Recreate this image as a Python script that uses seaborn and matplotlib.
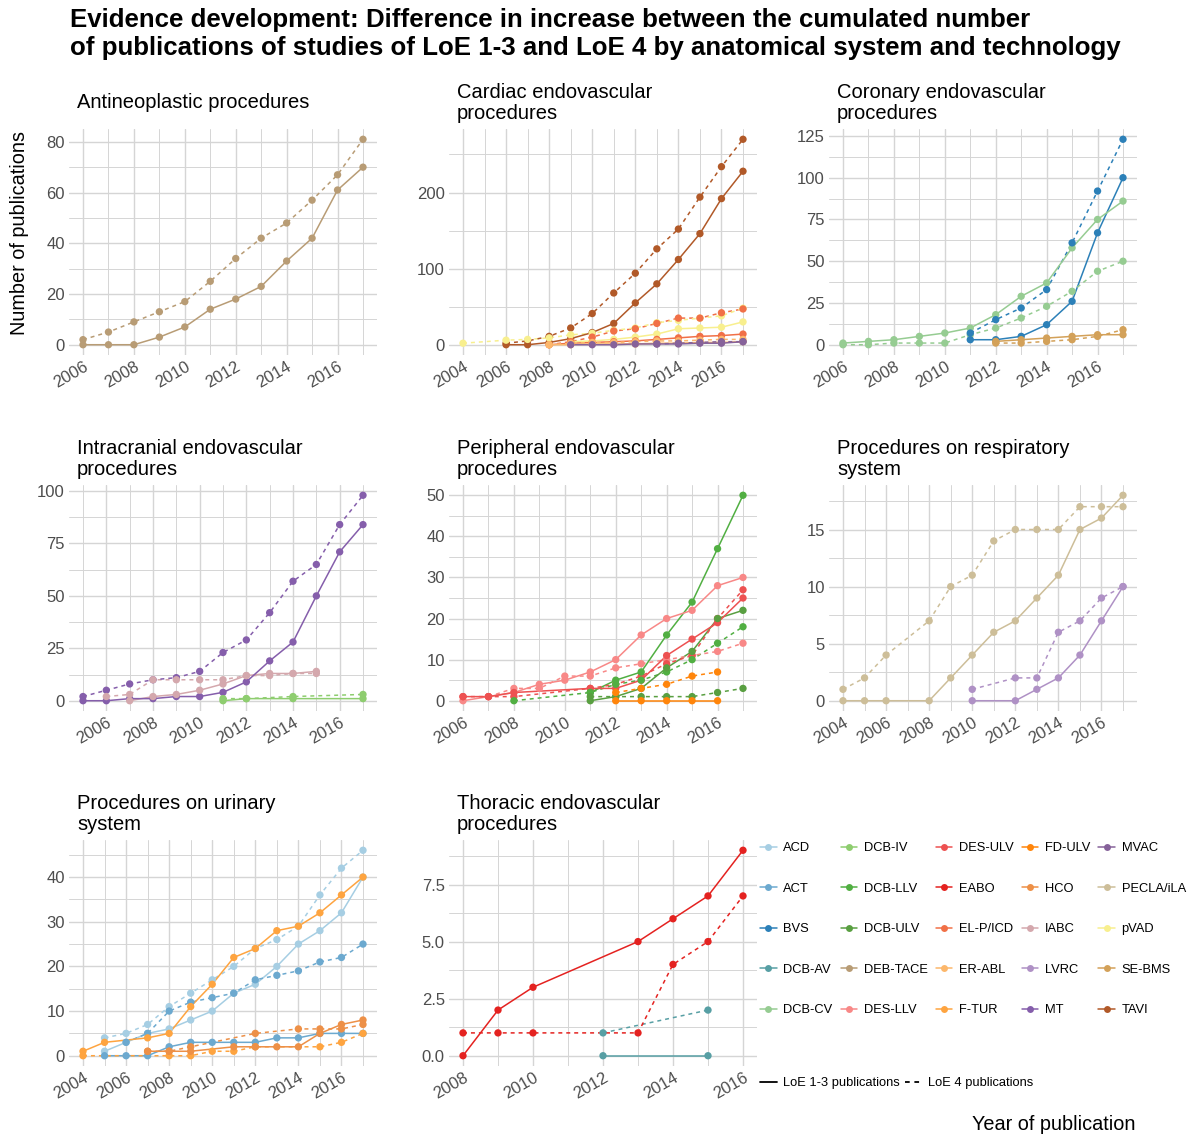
import numpy as np
import pandas as pd
import matplotlib
matplotlib.use("Agg")
import matplotlib.pyplot as plt
from matplotlib.lines import Line2D
from matplotlib.colors import LinearSegmentedColormap, to_hex
from matplotlib.ticker import MultipleLocator, FormatStrFormatter
import seaborn as sns

# ------------------------------------------------------------------ data
# Antineoplastic procedures
deb_tace_years = [2006, 2007, 2008, 2009, 2010, 2011, 2012, 2013, 2014, 2015, 2016, 2017]
deb_tace_loe13 = [0, 0, 0, 3, 7, 14, 18, 23, 33, 42, 61, 70]
deb_tace_loe4 = [2, 5, 9, 13, 17, 25, 34, 42, 48, 57, 67, 81]

# Cardiac endovascular procedures
tavi_years = [2006, 2007, 2008, 2009, 2010, 2011, 2012, 2013, 2014, 2015, 2016, 2017]
tavi_loe13 = [0, 0, 3, 8, 16, 28, 55, 80, 112, 146, 192, 228]
tavi_loe4 = [2, 5, 11, 22, 41, 68, 94, 126, 152, 194, 234, 270]
pvad_years13 = [2009, 2010, 2011, 2012, 2013, 2014, 2015, 2016, 2017]
pvad_loe13 = [4, 5, 7, 10, 14, 21, 22, 23, 30]
pvad_years4 = [2004, 2006, 2007, 2008, 2009, 2010, 2011, 2012, 2013, 2014, 2015, 2016, 2017]
pvad_loe4 = [2, 6, 7, 9, 13, 15, 19, 22, 29, 32, 35, 38, 48]
elp_years = [2008, 2009, 2010, 2011, 2012, 2013, 2014, 2015, 2016, 2017]
elp_loe13 = [0, 2, 3, 4, 5, 7, 9, 11, 12, 14]
elp_loe4 = [0, 4, 10, 18, 21, 28, 35, 35, 42, 47]
erabl_years = [2008, 2009, 2010, 2011, 2012, 2013, 2014, 2015, 2016, 2017]
erabl_loe13 = [0, 0, 1, 1, 1, 2, 2, 3, 3, 4]
erabl_loe4 = [0, 2, 3, 3, 4, 5, 5, 6, 7, 7]
mvac_years13 = [2009, 2010, 2011, 2012, 2013, 2014, 2015, 2016, 2017]
mvac_loe13 = [0, 0, 0, 1, 1, 1, 2, 2, 4]
mvac_years4 = [2013, 2014, 2015, 2016, 2017]
mvac_loe4 = [1, 2, 3, 4, 4]

# Coronary endovascular procedures
dcb_cv_years = [2006, 2007, 2008, 2009, 2010, 2011, 2012, 2013, 2014, 2015, 2016, 2017]
dcb_cv_loe13 = [1, 2, 3, 5, 7, 10, 18, 29, 37, 58, 75, 86]
dcb_cv_loe4 = [0, 0, 1, 1, 1, 6, 10, 16, 23, 32, 44, 50]
bvs_years = [2011, 2012, 2013, 2014, 2015, 2016, 2017]
bvs_loe13 = [3, 3, 5, 12, 26, 67, 100]
bvs_loe4 = [7, 15, 22, 33, 61, 92, 123]
se_bms_years = [2012, 2013, 2014, 2015, 2016, 2017]
se_bms_loe13 = [2, 3, 4, 5, 6, 6]
se_bms_loe4 = [1, 1, 2, 3, 5, 9]

# Intracranial endovascular procedures
mt_years = [2005, 2006, 2007, 2008, 2009, 2010, 2011, 2012, 2013, 2014, 2015, 2016, 2017]
mt_loe13 = [0, 0, 1, 1, 2, 2, 4, 9, 19, 28, 50, 71, 84]
mt_loe4 = [2, 5, 8, 10, 11, 14, 23, 29, 42, 57, 65, 84, 98]
iabc_years13 = [2007, 2008, 2009, 2010, 2011, 2012, 2013, 2014, 2015]
iabc_loe13 = [0, 2, 3, 5, 8, 12, 13, 13, 14]
iabc_years4 = [2006, 2007, 2008, 2009, 2010, 2011, 2012, 2013, 2014, 2015]
iabc_loe4 = [2, 3, 10, 10, 10, 10, 12, 12, 13, 13]
dcb_iv_years = [2011, 2012, 2014, 2017]
dcb_iv_loe13 = [0, 1, 1, 1]
dcb_iv_loe4 = [1, 1, 2, 3]

# Peripheral endovascular procedures
des_llv_years13 = [2006, 2007, 2008, 2009, 2010, 2011, 2012, 2013, 2014, 2015, 2016, 2017]
des_llv_loe13 = [0, 1, 2, 4, 5, 7, 10, 16, 20, 22, 28, 30]
des_llv_years4 = [2007, 2008, 2009, 2010, 2011, 2012, 2013, 2014, 2015, 2016, 2017]
des_llv_loe4 = [1, 3, 3, 6, 6, 8, 9, 10, 11, 12, 14]
des_ulv_years = [2006, 2007, 2008, 2011, 2012, 2013, 2014, 2015, 2016, 2017]
des_ulv_loe13 = [1, 1, 2, 3, 3, 5, 11, 15, 19, 25]
des_ulv_loe4 = [1, 1, 1, 3, 4, 6, 9, 11, 20, 27]
dcb_llv_years13 = [2011, 2012, 2013, 2014, 2015, 2016, 2017]
dcb_llv_loe13 = [2, 5, 7, 16, 24, 37, 50]
dcb_llv_years4 = [2008, 2011, 2012, 2013, 2014, 2015, 2016, 2017]
dcb_llv_loe4 = [0, 2, 4, 5, 7, 10, 14, 18]
dcb_ulv_years = [2011, 2012, 2013, 2014, 2015, 2016, 2017]
dcb_ulv_loe13 = [0, 1, 3, 8, 12, 20, 22]
dcb_ulv_loe4 = [1, 1, 1, 1, 1, 2, 3]
fd_ulv_years = [2012, 2013, 2014, 2015, 2016]
fd_ulv_loe13 = [0, 0, 0, 0, 0]
fd_ulv_loe4 = [2, 3, 4, 6, 7]

# Procedures on respiratory system
pecla_years = [2004, 2005, 2006, 2008, 2009, 2010, 2011, 2012, 2013, 2014, 2015, 2016, 2017]
pecla_loe13 = [0, 0, 0, 0, 2, 4, 6, 7, 9, 11, 15, 16, 18]
pecla_loe4 = [1, 2, 4, 7, 10, 11, 14, 15, 15, 15, 17, 17, 17]
lvrc_years = [2010, 2012, 2013, 2014, 2015, 2016, 2017]
lvrc_loe13 = [0, 0, 1, 2, 4, 7, 10]
lvrc_loe4 = [1, 2, 2, 6, 7, 9, 10]

# Procedures on urinary system
acd_years = [2005, 2006, 2007, 2008, 2009, 2010, 2011, 2012, 2013, 2014, 2015, 2016, 2017]
acd_loe13 = [1, 3, 5, 6, 8, 10, 14, 16, 20, 25, 28, 32, 40]
acd_loe4 = [4, 5, 7, 11, 14, 17, 20, 24, 26, 29, 36, 42, 46]
act_years13 = [2005, 2006, 2007, 2008, 2009, 2010, 2011, 2012, 2013, 2014, 2015, 2016, 2017]
act_loe13 = [0, 0, 0, 2, 3, 3, 3, 3, 4, 4, 5, 5, 5]
act_years4 = [2006, 2007, 2008, 2009, 2010, 2011, 2012, 2013, 2014, 2015, 2016, 2017]
act_loe4 = [3, 5, 10, 12, 13, 14, 17, 18, 19, 21, 22, 25]
ftur_years13 = [2004, 2005, 2007, 2008, 2009, 2010, 2011, 2012, 2013, 2014, 2015, 2016, 2017]
ftur_loe13 = [1, 3, 4, 5, 11, 16, 22, 24, 28, 29, 32, 36, 40]
ftur_years4 = [2004, 2008, 2009, 2010, 2011, 2012, 2015, 2016, 2017]
ftur_loe4 = [0, 0, 0, 1, 1, 2, 2, 3, 5]
hco_years13 = [2007, 2008, 2009, 2011, 2012, 2013, 2014, 2015, 2016, 2017]
hco_loe13 = [1, 1, 1, 2, 2, 2, 2, 5, 7, 8]
hco_years4 = [2007, 2008, 2009, 2012, 2014, 2015, 2016, 2017]
hco_loe4 = [1, 1, 2, 5, 6, 6, 6, 7]

# Thoracic endovascular procedures
eabo_years = [2008, 2009, 2010, 2013, 2014, 2015, 2016]
eabo_loe13 = [0, 2, 3, 5, 6, 7, 9]
eabo_loe4 = [1, 1, 1, 1, 4, 5, 7]
dcb_av_years = [2012, 2015]
dcb_av_loe13 = [0, 0]
dcb_av_loe4 = [1, 2]

PANELS = ["Antineoplastic procedures", "Cardiac endovascular\nprocedures",
          "Coronary endovascular\nprocedures", "Intracranial endovascular\nprocedures",
          "Peripheral endovascular\nprocedures", "Procedures on respiratory\nsystem",
          "Procedures on urinary\nsystem", "Thoracic endovascular\nprocedures"]
Y_STEPS = [20, 100, 25, 25, 10, 5, 10, 2.5]

TECHS = ["ACD", "ACT", "BVS", "DCB-AV", "DCB-CV", "DCB-IV", "DCB-LLV", "DCB-ULV",
         "DEB-TACE", "DES-LLV", "DES-ULV", "EABO", "EL-P/ICD", "ER-ABL", "F-TUR",
         "FD-ULV", "HCO", "IABC", "LVRC", "MT", "MVAC", "PECLA/iLA", "pVAD",
         "SE-BMS", "TAVI"]
LOE = ["LoE 1-3 publications", "LoE 4 publications"]

SERIES = [
    (0, "DEB-TACE", deb_tace_years, deb_tace_loe13, deb_tace_years, deb_tace_loe4),
    (1, "TAVI", tavi_years, tavi_loe13, tavi_years, tavi_loe4),
    (1, "pVAD", pvad_years13, pvad_loe13, pvad_years4, pvad_loe4),
    (1, "EL-P/ICD", elp_years, elp_loe13, elp_years, elp_loe4),
    (1, "ER-ABL", erabl_years, erabl_loe13, erabl_years, erabl_loe4),
    (1, "MVAC", mvac_years13, mvac_loe13, mvac_years4, mvac_loe4),
    (2, "DCB-CV", dcb_cv_years, dcb_cv_loe13, dcb_cv_years, dcb_cv_loe4),
    (2, "BVS", bvs_years, bvs_loe13, bvs_years, bvs_loe4),
    (2, "SE-BMS", se_bms_years, se_bms_loe13, se_bms_years, se_bms_loe4),
    (3, "MT", mt_years, mt_loe13, mt_years, mt_loe4),
    (3, "IABC", iabc_years13, iabc_loe13, iabc_years4, iabc_loe4),
    (3, "DCB-IV", dcb_iv_years, dcb_iv_loe13, dcb_iv_years, dcb_iv_loe4),
    (4, "DES-LLV", des_llv_years13, des_llv_loe13, des_llv_years4, des_llv_loe4),
    (4, "DES-ULV", des_ulv_years, des_ulv_loe13, des_ulv_years, des_ulv_loe4),
    (4, "DCB-LLV", dcb_llv_years13, dcb_llv_loe13, dcb_llv_years4, dcb_llv_loe4),
    (4, "DCB-ULV", dcb_ulv_years, dcb_ulv_loe13, dcb_ulv_years, dcb_ulv_loe4),
    (4, "FD-ULV", fd_ulv_years, fd_ulv_loe13, fd_ulv_years, fd_ulv_loe4),
    (5, "PECLA/iLA", pecla_years, pecla_loe13, pecla_years, pecla_loe4),
    (5, "LVRC", lvrc_years, lvrc_loe13, lvrc_years, lvrc_loe4),
    (6, "ACD", acd_years, acd_loe13, acd_years, acd_loe4),
    (6, "ACT", act_years13, act_loe13, act_years4, act_loe4),
    (6, "F-TUR", ftur_years13, ftur_loe13, ftur_years4, ftur_loe4),
    (6, "HCO", hco_years13, hco_loe13, hco_years4, hco_loe4),
    (7, "EABO", eabo_years, eabo_loe13, eabo_years, eabo_loe4),
    (7, "DCB-AV", dcb_av_years, dcb_av_loe13, dcb_av_years, dcb_av_loe4),
]

rows = []
for pi, tech, y13, v13, y4, v4 in SERIES:
    for yr, v in zip(y13, v13):
        rows.append((pi, tech, LOE[0], yr, v))
    for yr, v in zip(y4, v4):
        rows.append((pi, tech, LOE[1], yr, v))
df = pd.DataFrame(rows, columns=["panel", "tech", "loe", "year", "n"])

# colour ramp interpolated from ColorBrewer "Paired" (12 -> 25 colours)
paired = sns.color_palette("Paired", 12)
cmap = LinearSegmentedColormap.from_list("paired_ramp", paired)
palette = {t: to_hex(cmap(i / (len(TECHS) - 1))) for i, t in enumerate(TECHS)}
dash_map = {LOE[0]: "", LOE[1]: (2.6, 2.6)}

# ------------------------------------------------------------------ figure
sns.set_theme(style="white")
plt.rcParams["font.family"] = ["Liberation Sans", "DejaVu Sans"]
plt.rcParams["text.color"] = "black"

W, H = 1189, 1138
fig = plt.figure(figsize=(W / 100, H / 100), dpi=100)

COL_LEFT = [69, 449, 829]
ROW_TOP = [129, 485, 840]
AX_W, AX_H = 308, 226
GRID_C = "#d5d5d5"

for pi, title in enumerate(PANELS):
    r, c = divmod(pi, 3)
    left, top = COL_LEFT[c], ROW_TOP[r]
    ax = fig.add_axes([left / W, 1 - (top + AX_H) / H, AX_W / W, AX_H / H])
    sub = df[df["panel"] == pi]
    order = [t for t in TECHS if t in set(sub["tech"])]
    sns.lineplot(data=sub, x="year", y="n", hue="tech", style="loe",
                 hue_order=order, style_order=LOE, palette=palette,
                 dashes=dash_map, estimator=None, sort=True, lw=1.1,
                 legend=False, ax=ax)
    sns.scatterplot(data=sub, x="year", y="n", hue="tech", hue_order=order,
                    palette=palette, s=28, linewidth=0, legend=False, ax=ax,
                    zorder=3)
    ax.set_xlabel("")
    ax.set_ylabel("")
    for sp in ax.spines.values():
        sp.set_visible(False)
    ax.xaxis.set_major_locator(MultipleLocator(2))
    ax.xaxis.set_minor_locator(MultipleLocator(1))
    step = Y_STEPS[pi]
    ax.yaxis.set_major_locator(MultipleLocator(step))
    ax.yaxis.set_minor_locator(MultipleLocator(step / 2))
    if step < 5:
        ax.yaxis.set_major_formatter(FormatStrFormatter("%.1f"))
    else:
        ax.yaxis.set_major_formatter(FormatStrFormatter("%d"))
    ax.set_axisbelow(True)
    ax.grid(which="major", color=GRID_C, lw=1.0)
    ax.grid(which="minor", color=GRID_C, lw=0.7)
    ax.tick_params(axis="both", which="both", length=0, labelsize=12,
                   labelcolor="#4d4d4d")
    ax.tick_params(axis="y", pad=3)
    ax.tick_params(axis="x", pad=3)
    plt.setp(ax.get_xticklabels(), rotation=30, ha="right",
             rotation_mode="anchor")
    fig.text((left + 8) / W, 1 - (top - 26) / H, title, ha="left",
             va="center", fontsize=14.5, color="black", linespacing=1.12)

# titles and axis labels
fig.text(70 / W, 1 - 34 / H,
         "Evidence development: Difference in increase between the cumulated number\n"
         "of publications of studies of LoE 1-3 and LoE 4 by anatomical system and technology",
         ha="left", va="center", fontsize=18.6, fontweight="bold",
         linespacing=1.16, color="black")
fig.text(20 / W, 1 - 233 / H, "Number of publications", rotation=90,
         ha="center", va="center", fontsize=14.3, color="black")
fig.text(1135 / W, 1 - 1124 / H, "Year of publication", ha="right",
         va="center", fontsize=14.3, color="black")

# legends
tech_handles = [Line2D([], [], color=palette[t], marker="o", markersize=5,
                       markeredgewidth=0, lw=1.1) for t in TECHS]
fig.legend(tech_handles, TECHS, ncol=5, loc="upper left",
           bbox_to_anchor=(760 / W, 1 - 842 / H), frameon=False, fontsize=9.3,
           handlelength=1.3, handletextpad=0.5, columnspacing=0.62,
           labelspacing=2.21, borderpad=0, borderaxespad=0, labelcolor="black")
loe_handles = [Line2D([], [], color="black", lw=1.3),
               Line2D([], [], color="black", lw=1.3, dashes=(2.6, 2.6))]
fig.legend(loe_handles, LOE, ncol=2, loc="upper left",
           bbox_to_anchor=(760 / W, 1 - 1077 / H), frameon=False, fontsize=9.3,
           handlelength=1.3, handletextpad=0.5, columnspacing=0.4,
           borderpad=0, borderaxespad=0, labelcolor="black")

fig.savefig("out.png", dpi=100, facecolor="white")
